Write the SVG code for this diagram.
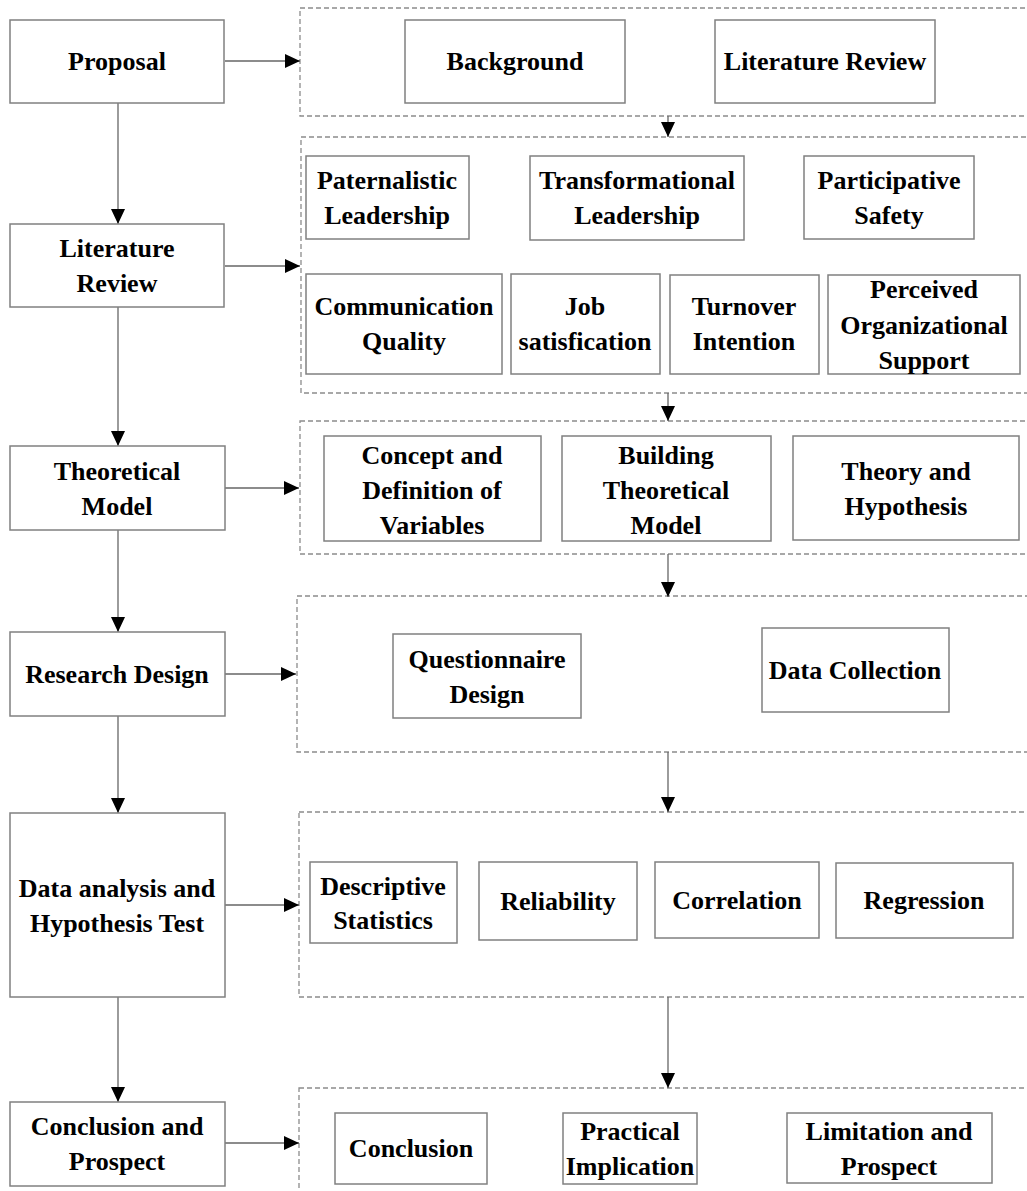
<svg xmlns="http://www.w3.org/2000/svg" width="1027" height="1191" viewBox="0 0 1027 1191">
<defs>
<style>
.box{fill:#fff;stroke:#808080;stroke-width:1.5}
.grp{fill:none;stroke:#8c8c8c;stroke-width:1.3;stroke-dasharray:5,3}
.t{font-family:"Liberation Serif","Times New Roman",serif;font-weight:bold;font-size:26px;fill:#000;text-anchor:middle}
.c{fill:none;stroke:#666;stroke-width:1.3;marker-end:url(#ah)}
</style>
<marker id="ah" markerUnits="userSpaceOnUse" markerWidth="16" markerHeight="14" refX="15" refY="7" orient="auto">
<path d="M0,0 L15,7 L0,14 z" fill="#000"/>
</marker>
</defs>
<rect width="1027" height="1191" fill="#fff"/>

<g id="groups">
<rect id="g1" class="grp" x="300" y="8" width="740" height="108"/>
<rect id="g2" class="grp" x="301" y="137" width="740" height="256"/>
<rect id="g3" class="grp" x="300" y="421" width="740" height="133"/>
<rect id="g4" class="grp" x="297" y="596" width="744" height="156"/>
<rect id="g5" class="grp" x="299" y="812" width="742" height="185"/>
<rect id="g6" class="grp" x="299" y="1088" width="742" height="120"/>
</g>

<g id="connectors">
<line class="c" x1="118" y1="103" x2="118" y2="224"/>
<line class="c" x1="118" y1="307" x2="118" y2="446"/>
<line class="c" x1="118" y1="530" x2="118" y2="632"/>
<line class="c" x1="118" y1="716" x2="118" y2="813"/>
<line class="c" x1="118" y1="997" x2="118" y2="1102"/>
<line class="c" x1="225" y1="61" x2="300" y2="61"/>
<line class="c" x1="225" y1="266" x2="300" y2="266"/>
<line class="c" x1="225" y1="488" x2="299" y2="488"/>
<line class="c" x1="225" y1="674" x2="296" y2="674"/>
<line class="c" x1="225" y1="905" x2="299" y2="905"/>
<line class="c" x1="225" y1="1143" x2="299" y2="1143"/>
<line class="c" x1="668" y1="116" x2="668" y2="137"/>
<line class="c" x1="668" y1="393" x2="668" y2="421"/>
<line class="c" x1="668" y1="554" x2="668" y2="597"/>
<line class="c" x1="668" y1="752" x2="668" y2="812"/>
<line class="c" x1="668" y1="997" x2="668" y2="1088"/>
</g>

<g id="proposal"><rect class="box" x="10" y="20" width="214" height="83"/><text class="t" x="117" y="70">Proposal</text></g>
<g id="literature-review"><rect class="box" x="10" y="224" width="214" height="83"/><text class="t" x="117" y="257">Literature</text><text class="t" x="117" y="292">Review</text></g>
<g id="theoretical-model"><rect class="box" x="10" y="446" width="215" height="84"/><text class="t" x="117" y="480">Theoretical</text><text class="t" x="117" y="515">Model</text></g>
<g id="research-design"><rect class="box" x="10" y="632" width="215" height="84"/><text class="t" x="117" y="683">Research Design</text></g>
<g id="data-analysis"><rect class="box" x="10" y="813" width="215" height="184"/><text class="t" x="117" y="897">Data analysis and</text><text class="t" x="117" y="932">Hypothesis Test</text></g>
<g id="conclusion-prospect"><rect class="box" x="10" y="1102" width="215" height="84"/><text class="t" x="117" y="1135">Conclusion and</text><text class="t" x="117" y="1170">Prospect</text></g>

<g id="background"><rect class="box" x="405" y="20" width="220" height="83"/><text class="t" x="515" y="70">Background</text></g>
<g id="lit-review-2"><rect class="box" x="715" y="20" width="220" height="83"/><text class="t" x="825" y="70">Literature Review</text></g>

<g id="paternalistic"><rect class="box" x="306" y="156" width="163" height="83"/><text class="t" x="387" y="189">Paternalistic</text><text class="t" x="387" y="224">Leadership</text></g>
<g id="transformational"><rect class="box" x="530" y="156" width="214" height="84"/><text class="t" x="637" y="189">Transformational</text><text class="t" x="637" y="224">Leadership</text></g>
<g id="participative"><rect class="box" x="804" y="156" width="170" height="83"/><text class="t" x="889" y="189">Participative</text><text class="t" x="889" y="224">Safety</text></g>

<g id="communication"><rect class="box" x="306" y="274" width="196" height="100"/><text class="t" x="404" y="315">Communication</text><text class="t" x="404" y="350">Quality</text></g>
<g id="job-satisfaction"><rect class="box" x="511" y="274" width="149" height="100"/><text class="t" x="585" y="315">Job</text><text class="t" x="585" y="350">satisfication</text></g>
<g id="turnover"><rect class="box" x="670" y="275" width="149" height="99"/><text class="t" x="744" y="315">Turnover</text><text class="t" x="744" y="350">Intention</text></g>
<g id="perceived"><rect class="box" x="828" y="275" width="192" height="99"/><text class="t" x="924" y="298">Perceived</text><text class="t" x="924" y="334">Organizational</text><text class="t" x="924" y="369">Support</text></g>

<g id="concept"><rect class="box" x="324" y="436" width="217" height="105"/><text class="t" x="432" y="464">Concept and</text><text class="t" x="432" y="499">Definition of</text><text class="t" x="432" y="534">Variables</text></g>
<g id="building"><rect class="box" x="562" y="436" width="209" height="105"/><text class="t" x="666" y="464">Building</text><text class="t" x="666" y="499">Theoretical</text><text class="t" x="666" y="534">Model</text></g>
<g id="theory"><rect class="box" x="793" y="436" width="226" height="104"/><text class="t" x="906" y="480">Theory and</text><text class="t" x="906" y="515">Hypothesis</text></g>

<g id="questionnaire"><rect class="box" x="393" y="634" width="188" height="84"/><text class="t" x="487" y="668">Questionnaire</text><text class="t" x="487" y="703">Design</text></g>
<g id="data-collection"><rect class="box" x="762" y="628" width="187" height="84"/><text class="t" x="855" y="679">Data Collection</text></g>

<g id="descriptive"><rect class="box" x="310" y="862" width="147" height="81"/><text class="t" x="383" y="895">Descriptive</text><text class="t" x="383" y="929">Statistics</text></g>
<g id="reliability"><rect class="box" x="479" y="862" width="158" height="78"/><text class="t" x="558" y="910">Reliability</text></g>
<g id="correlation"><rect class="box" x="655" y="862" width="164" height="76"/><text class="t" x="737" y="909">Correlation</text></g>
<g id="regression"><rect class="box" x="836" y="863" width="177" height="75"/><text class="t" x="924" y="909">Regression</text></g>

<g id="conclusion"><rect class="box" x="335" y="1113" width="152" height="71"/><text class="t" x="411" y="1157">Conclusion</text></g>
<g id="practical"><rect class="box" x="563" y="1113" width="134" height="71"/><text class="t" x="630" y="1140">Practical</text><text class="t" x="630" y="1175">Implication</text></g>
<g id="limitation"><rect class="box" x="787" y="1113" width="205" height="70"/><text class="t" x="889" y="1140">Limitation and</text><text class="t" x="889" y="1175">Prospect</text></g>
</svg>
